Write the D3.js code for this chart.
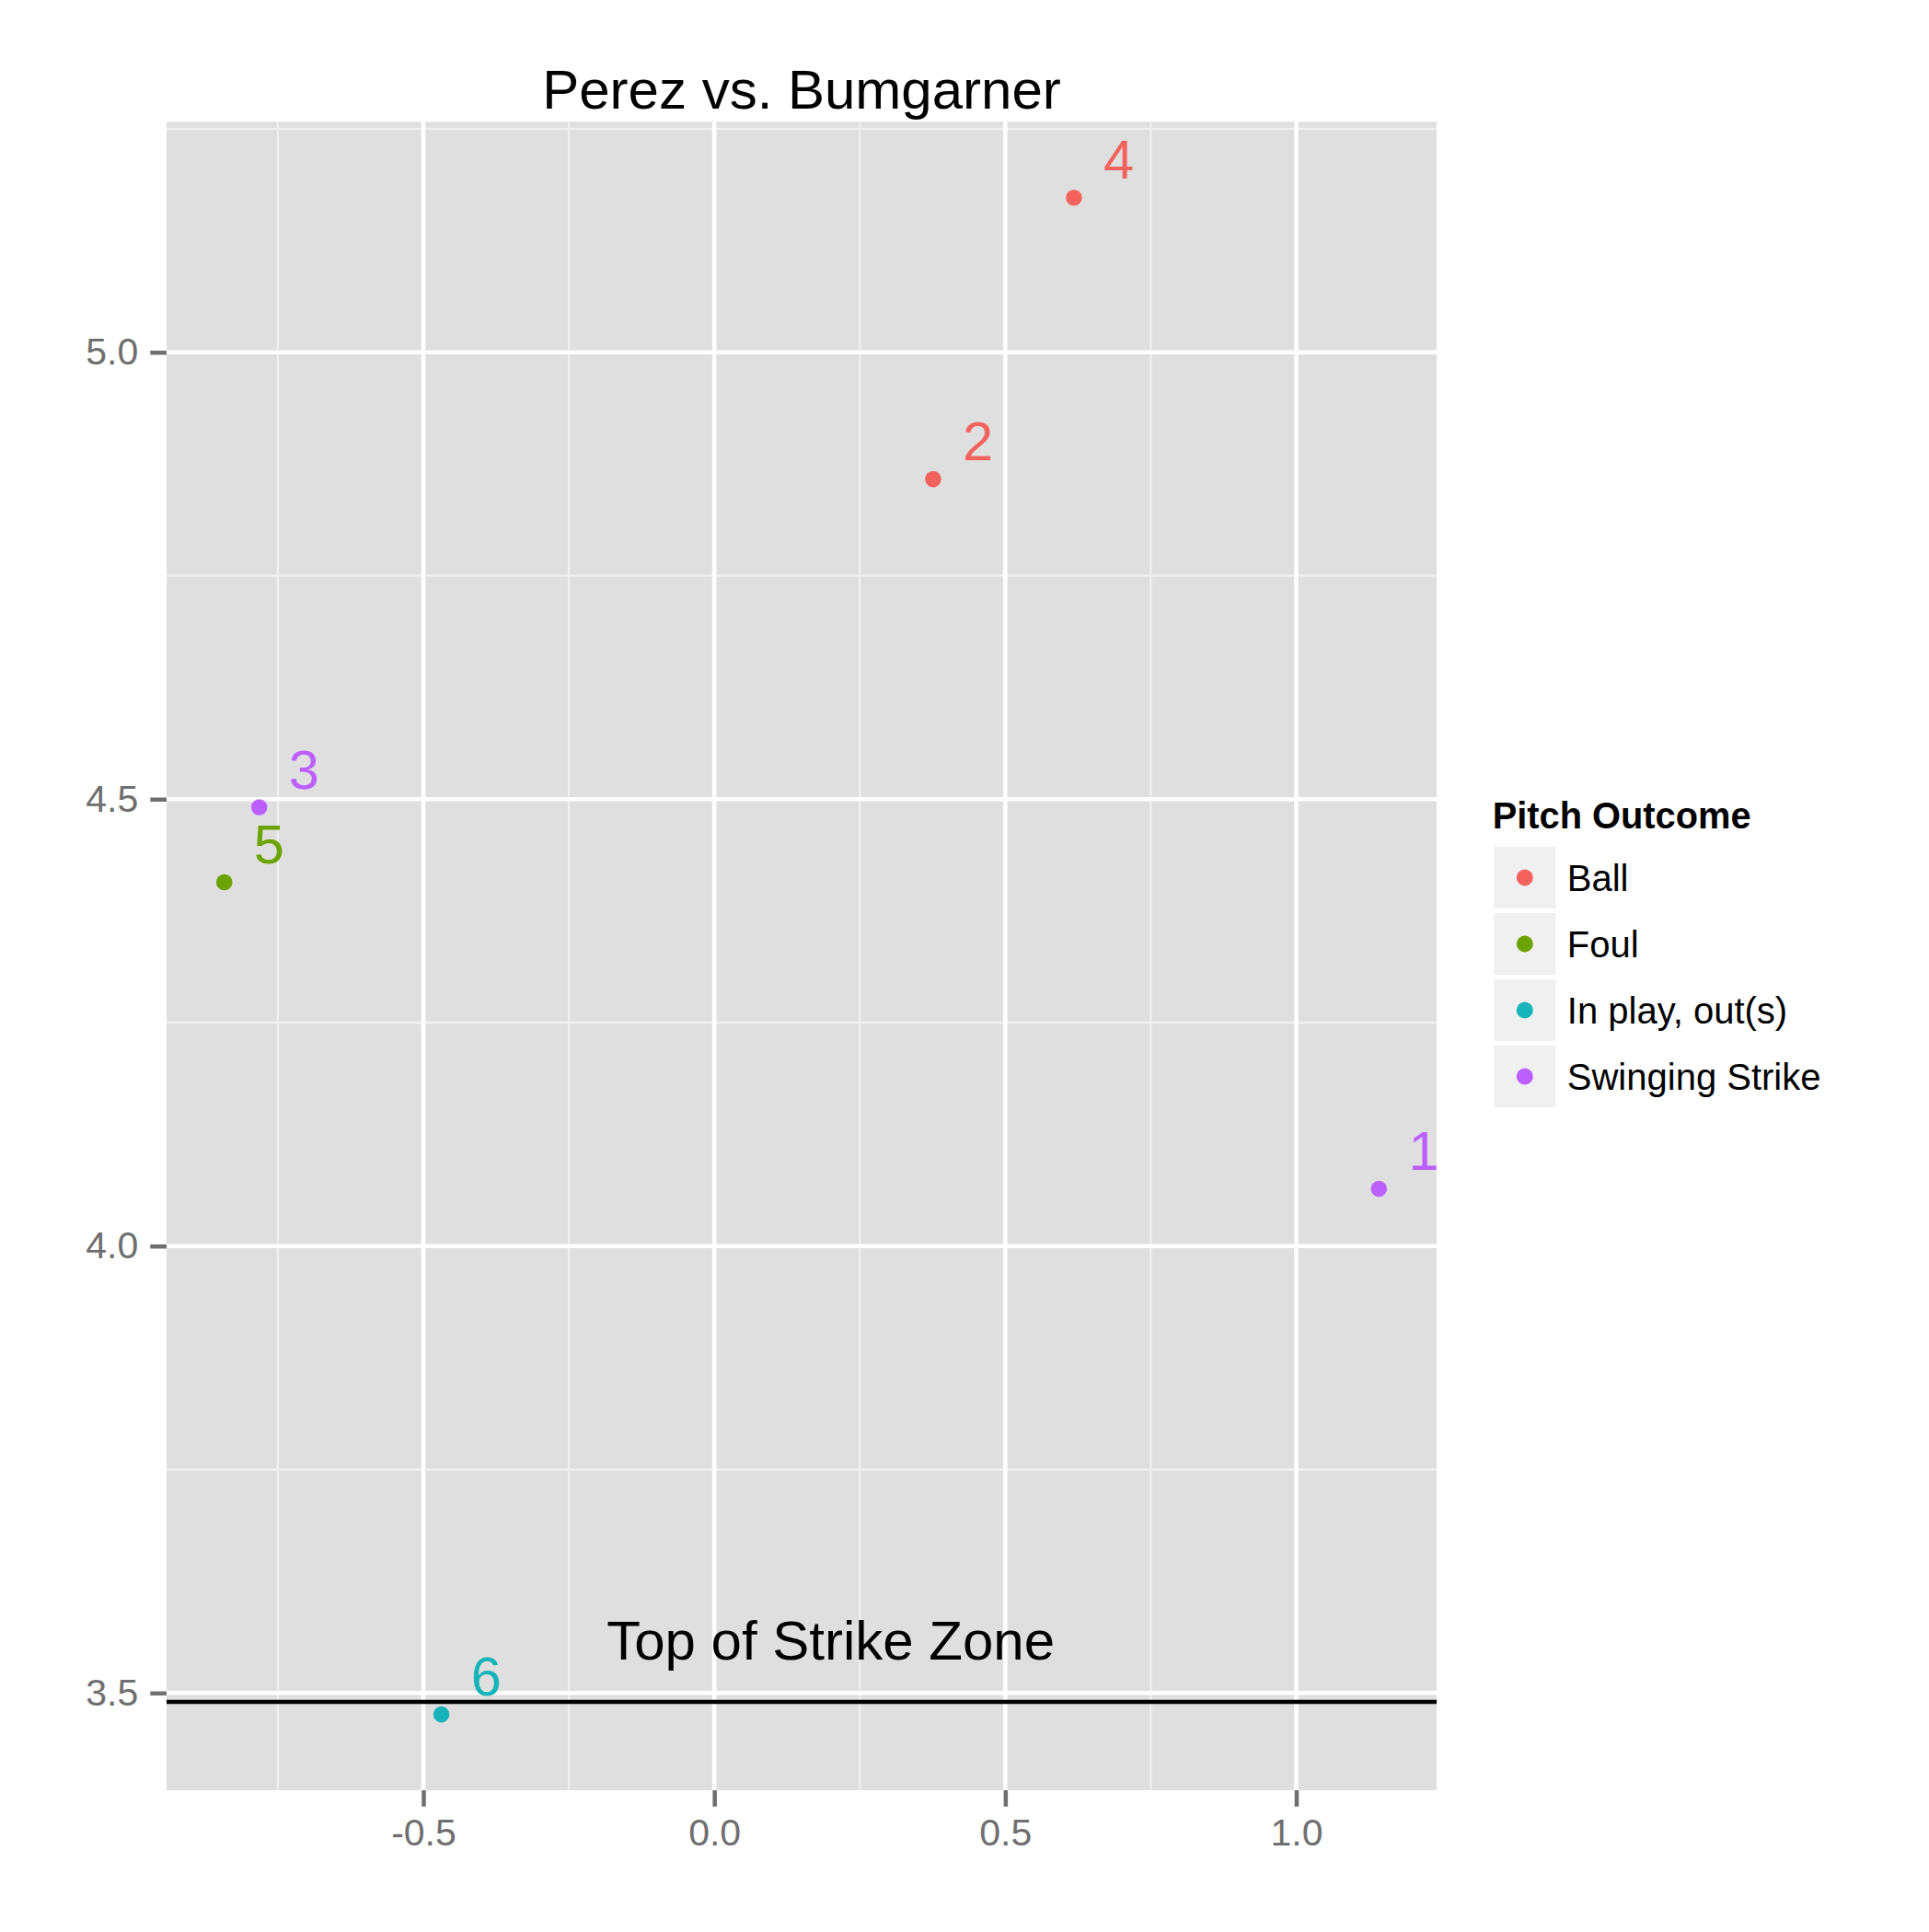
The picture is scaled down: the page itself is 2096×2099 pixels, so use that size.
<!DOCTYPE html>
<html><head><meta charset="utf-8">
<script src="https://cdn.jsdelivr.net/npm/d3@7"></script>
<style>body{margin:0;background:#fff} svg{display:block} text{font-family:"Liberation Sans",Arial,Helvetica,sans-serif}</style>
</head><body><svg id="c" width="2096" height="2099"></svg>
<script>
const title = "Perez vs. Bumgarner";
const outcomes = ["Ball","Foul","In play, out(s)","Swinging Strike"];
const outcomeColors = ["#F4625E","#6BA300","#16B4B8","#BB5FFF"];
const pitchNum = [1,2,3,4,5,6];
const pitchOutcome = ["Swinging Strike","Ball","Swinging Strike","Ball","Foul","In play, out(s)"];
const px = [1.142,0.376,-0.782,0.618,-0.842,-0.469];
const pz = [4.064,4.858,4.491,5.173,4.407,3.476];
const xTicks = [-0.5,0,0.5,1];
const xTickLabels = ["-0.5","0.0","0.5","1.0"];
const xMinor = [-0.75,-0.25,0.25,0.75];
const yTicks = [3.5,4,4.5,5];
const yTickLabels = ["3.5","4.0","4.5","5.0"];
const yMinor = [3.75,4.25,4.75,5.25];
const szTop = 3.49;
const szLabel = "Top of Strike Zone";
const szLabelPos = [0.2, 3.56];
const labelOffset = [0.077, 0.043];
const legendTitle = "Pitch Outcome";

const W = 2096, H = 2099;
const panel = {left:181, right:1561, top:132.3, bottom:1945};
const svg = d3.select("#c");

function expand(ext, f){ const r = ext[1]-ext[0]; return [ext[0]-r*f, ext[1]+r*f]; }
const x = d3.scaleLinear().domain(expand(d3.extent(px),0.05)).range([panel.left, panel.right]);
const y = d3.scaleLinear().domain(expand(d3.extent(pz),0.05)).range([panel.bottom, panel.top]);
const color = d3.scaleOrdinal().domain(outcomes).range(outcomeColors);

const data = pitchNum.map((n,i)=>({n, x:px[i], z:pz[i], o:pitchOutcome[i]}));

// panel background
svg.append("rect").attr("x",panel.left).attr("y",panel.top)
  .attr("width",panel.right-panel.left).attr("height",panel.bottom-panel.top).attr("fill","#dfdfdf");

svg.append("clipPath").attr("id","pc").append("rect").attr("x",panel.left).attr("y",panel.top)
  .attr("width",panel.right-panel.left).attr("height",panel.bottom-panel.top);
const g = svg.append("g").attr("clip-path","url(#pc)");

// minor grid
g.selectAll(".xm").data(xMinor).join("line").attr("x1",d=>x(d)).attr("x2",d=>x(d))
  .attr("y1",panel.top).attr("y2",panel.bottom).attr("stroke","#f0f0f0").attr("stroke-width",2.3);
g.selectAll(".ym").data(yMinor).join("line").attr("y1",d=>y(d)).attr("y2",d=>y(d))
  .attr("x1",panel.left).attr("x2",panel.right).attr("stroke","#f0f0f0").attr("stroke-width",2.3);
// major grid
g.selectAll(".xM").data(xTicks).join("line").attr("x1",d=>x(d)).attr("x2",d=>x(d))
  .attr("y1",panel.top).attr("y2",panel.bottom).attr("stroke","#ffffff").attr("stroke-width",4.6);
g.selectAll(".yM").data(yTicks).join("line").attr("y1",d=>y(d)).attr("y2",d=>y(d))
  .attr("x1",panel.left).attr("x2",panel.right).attr("stroke","#ffffff").attr("stroke-width",4.6);

// strike zone line
g.append("line").attr("x1",panel.left).attr("x2",panel.right).attr("y1",y(szTop)).attr("y2",y(szTop))
  .attr("stroke","#000").attr("stroke-width",4.3);

// points
g.selectAll("circle.pt").data(data).join("circle").attr("class","pt")
  .attr("cx",d=>x(d.x)).attr("cy",d=>y(d.z)).attr("r",8.8).attr("fill",d=>color(d.o));

// number labels
svg.selectAll("text.num").data(data).join("text").attr("class","num")
  .attr("x",d=>x(d.x+labelOffset[0])).attr("y",d=>y(d.z+labelOffset[1]))
  .attr("dy","0.36em").attr("text-anchor","middle").attr("font-size",59.5)
  .attr("fill",d=>color(d.o)).text(d=>d.n);

// strike zone label
svg.append("text").attr("x",x(szLabelPos[0])).attr("y",y(szLabelPos[1])).attr("dy","0.36em")
  .attr("text-anchor","middle").attr("font-size",60).attr("fill","#000").text(szLabel);

// axes
const axisCol = "#6f6f6f";
const ya = svg.append("g").attr("transform",`translate(${panel.left},0)`)
  .call(d3.axisLeft(y).tickValues(yTicks).tickFormat((d,i)=>yTickLabels[i]).tickSize(17.7).tickPadding(13));
const xa = svg.append("g").attr("transform",`translate(0,${panel.bottom})`)
  .call(d3.axisBottom(x).tickValues(xTicks).tickFormat((d,i)=>xTickLabels[i]).tickSize(17.7).tickPadding(13));
[ya,xa].forEach(a=>{
  a.select(".domain").remove();
  a.selectAll(".tick line").attr("stroke",axisCol).attr("stroke-width",4.5);
  a.selectAll(".tick text").attr("fill",axisCol).attr("font-size",41)
    .attr("font-family",'"Liberation Sans",Arial,Helvetica,sans-serif');
});

// title
svg.append("text").attr("x",(panel.left+panel.right)/2).attr("y",118.3).attr("text-anchor","middle")
  .attr("font-size",60).attr("fill","#000").text(title);

// legend
const lg = svg.append("g");
lg.append("text").attr("x",1621.7).attr("y",900).attr("font-size",39.8).attr("font-weight","bold")
  .attr("fill","#000").text(legendTitle);
const keyTop = 917.5, keyPitch = 72, keyX = 1620.8, keySize = 72;
const items = lg.selectAll("g.item").data(outcomes).join("g").attr("class","item")
  .attr("transform",(d,i)=>`translate(${keyX},${keyTop+i*keyPitch})`);
items.append("rect").attr("x",2.5).attr("y",2.5).attr("width",keySize-5).attr("height",keySize-5).attr("fill","#f0f0f0");
items.append("circle").attr("cx",keySize/2).attr("cy",keySize/2).attr("r",9).attr("fill",d=>color(d));
items.append("text").attr("x",82).attr("y",keySize/2).attr("dy","0.36em").attr("font-size",40)
  .attr("fill","#000").text(d=>d);
</script></body></html>
